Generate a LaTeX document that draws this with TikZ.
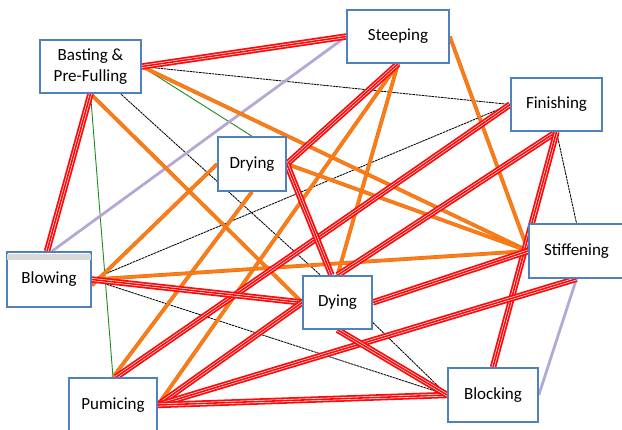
\documentclass[tikz,border=0pt]{standalone}
\usepackage{fontspec}
\setmainfont{Carlito}
\usetikzlibrary{calc}
\pgfdeclarelayer{bg}
\pgfsetlayers{bg,main}
\definecolor{boxblue}{RGB}{79,129,189}
\definecolor{linkred}{RGB}{255,10,10}
\definecolor{linkorange}{RGB}{252,125,20}
\definecolor{linkorangedark}{RGB}{230,112,30}
\definecolor{linklav}{RGB}{182,168,212}
\definecolor{linkgreen}{RGB}{30,140,30}
\definecolor{bandgray}{RGB}{217,217,217}
\tikzset{
  stagebox/.style={draw=boxblue, line width=1.6pt, fill=white, inner sep=0pt,
    align=center, font=\fontsize{17}{20.5}\selectfont},
  redl/.style={preaction={draw=linkred, line width=6.4pt}, draw=white,
    double=linkred, double distance=1.6pt, line width=0.6pt},
  orangel/.style={preaction={draw=linkorangedark, line width=3.8pt}, draw=linkorange, line width=2.6pt},
  lavl/.style={draw=linklav, line width=2.8pt},
  blackl/.style={draw=black, line width=0.85pt, dash pattern=on 2.5pt off 0.7pt},
  greenl/.style={draw=linkgreen, line width=0.9pt}
}
\begin{document}
\begin{tikzpicture}[x=1pt,y=-1pt]
\clip (0,0) rectangle (622,430);
\begin{pgfonlayer}{bg}
\fill[white] (0,0) rectangle (622,430);
\end{pgfonlayer}

\node[stagebox, minimum width=101pt, minimum height=53pt] (basting) at (90.5,66.5) {Basting \&\\Pre-Fulling};
\node[stagebox, minimum width=102pt, minimum height=53pt] (steeping) at (398,36.5) {Steeping};
\node[stagebox, minimum width=91pt, minimum height=53pt] (finishing) at (556.5,104.5) {Finishing};
\node[stagebox, minimum width=68pt, minimum height=54pt] (drying) at (252,164) {Drying};
\node[stagebox, minimum width=84pt, minimum height=55pt] (blowing) at (49,279.5) {Blowing};
\node[stagebox, minimum width=88pt, minimum height=54pt] (pumicing) at (113,405) {Pumicing};
\node[stagebox, minimum width=69pt, minimum height=53pt] (dying) at (337.5,302.5) {Dying};
\node[stagebox, minimum width=95pt, minimum height=54pt] (stiffening) at (576.5,251) {Stiffening};
\node[stagebox, minimum width=90pt, minimum height=54pt] (blocking) at (493,395) {Blocking};
\fill[bandgray] ($(blowing.north west)+(1,3)$) rectangle ($(blowing.north east)+(-1,9)$);

\begin{pgfonlayer}{bg}
% black dotted
\draw[blackl] (basting.east) -- (finishing.west);
\draw[blackl] (basting.center) -- ([xshift=-17pt]dying.north);
\draw[blackl] (finishing.west) -- (blowing.east);
\draw[blackl] (finishing.south) -- (stiffening.north);
\draw[blackl] (blowing.east) -- (blocking.west);
\draw[blackl] ($(dying.east)+(0,20)$) -- (blocking.west);
% green
\draw[greenl] (basting.east) -- (drying.north);
\draw[greenl] (basting.south) -- (pumicing.north);
% lavender
\draw[lavl] (steeping.west) -- ([xshift=3pt]blowing.north);
\draw[lavl] (stiffening.south) -- (blocking.east);
% orange
\draw[orangel] (basting.east) -- (stiffening.west);
\draw[orangel] (basting.south) -- (dying.west);
\draw[orangel] (steeping.south) -- (pumicing.east);
\draw[orangel] (steeping.south) -- (dying.north);
\draw[orangel] (steeping.east) -- (stiffening.west);
\draw[orangel] (drying.east) -- (stiffening.west);
\draw[orangel] (drying.west) -- ([yshift=-6pt]blowing.east);
\draw[orangel] (drying.south) -- (pumicing.north);
\draw[orangel] (blowing.east) -- (stiffening.west);
% red
\draw[redl] (basting.east) -- (steeping.west);
\draw[redl] (basting.south) -- ([xshift=-2pt]blowing.north);
\draw[redl] (steeping.south) -- (drying.east);
\draw[redl] (finishing.west) -- ([xshift=3pt]pumicing.north);
\draw[redl] (finishing.south) -- (dying.north);
\draw[redl] (finishing.south) -- (blocking.north);
\draw[redl] (drying.east) -- ([xshift=-6pt]dying.north);
\draw[redl] (blowing.east) -- (dying.west);
\draw[redl] (pumicing.east) -- (dying.west);
\draw[redl] (pumicing.east) -- (stiffening.south);
\draw[redl] (pumicing.east) -- (blocking.west);
\draw[redl] (dying.east) -- (stiffening.west);
\draw[redl] (dying.south) -- (blocking.west);
\end{pgfonlayer}
\end{tikzpicture}
\end{document}
